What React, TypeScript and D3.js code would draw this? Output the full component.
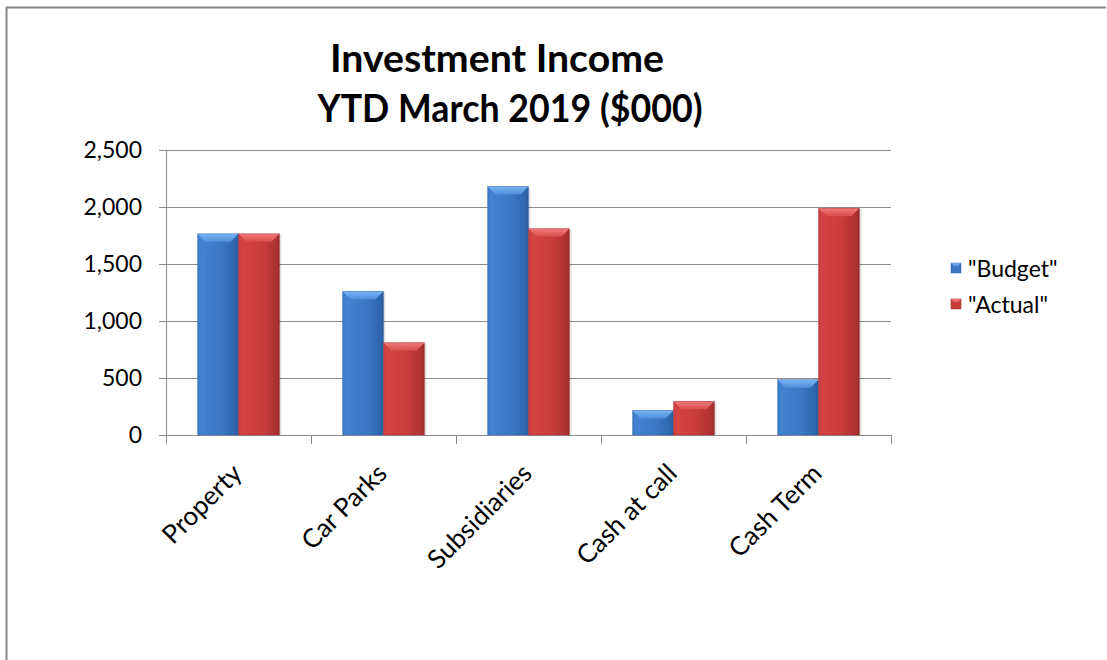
import React from "react";
import * as d3 from "d3";

const categories = ["Property", "Car Parks", "Subsidiaries", "Cash at call", "Cash Term"];
const budget = [1765, 1260, 2180, 215, 485];
const actual = [1765, 810, 1810, 295, 1990];
const seriesNames = ['"Budget"', '"Actual"'];
const yTicks = [0, 500, 1000, 1500, 2000, 2500];

const W = 1107, H = 660;
const left = 166, right = 891, top = 150, bottom = 435;
const FONT = "Lato, 'Open Sans', sans-serif";

export default function App() {
  const x = d3.scaleBand<string>().domain(categories).range([left, right]).paddingInner(0).paddingOuter(0);
  const inner = d3.scaleBand<number>().domain([0, 1]).range([0, x.bandwidth()]).paddingInner(0).paddingOuter(0.77);
  const y = d3.scaleLinear().domain([0, 2500]).range([bottom, top]);
  const fmt = d3.format(",");
  const series = [budget, actual];
  const grads = ["gBlue", "gRed"];
  const bevel = ["#6aa6ee", "#ec6a6a"];
  const swatch = ["#3a78c6", "#c83a3a"];

  return (
    <svg width={W} height={H} style={{ position: "absolute", left: 0, top: 0, display: "block" }}>
      <defs>
        <linearGradient id="gBlue" x1="0" x2="1" y1="0" y2="0">
          <stop offset="0" stopColor="#3a79c9" />
          <stop offset="0.1" stopColor="#4383d2" />
          <stop offset="0.6" stopColor="#3a77c4" />
          <stop offset="0.92" stopColor="#2f65ad" />
          <stop offset="1" stopColor="#2a5a9a" />
        </linearGradient>
        <linearGradient id="gRed" x1="0" x2="1" y1="0" y2="0">
          <stop offset="0" stopColor="#c93c3c" />
          <stop offset="0.1" stopColor="#d54343" />
          <stop offset="0.6" stopColor="#c83b3b" />
          <stop offset="0.92" stopColor="#ad3131" />
          <stop offset="1" stopColor="#9b2b2b" />
        </linearGradient>
        <linearGradient id="gBevelB" x1="0" x2="0" y1="0" y2="1">
          <stop offset="0" stopColor="#7ab4f5" />
          <stop offset="1" stopColor="#4f8fdc" />
        </linearGradient>
        <linearGradient id="gBevelR" x1="0" x2="0" y1="0" y2="1">
          <stop offset="0" stopColor="#f27a7a" />
          <stop offset="1" stopColor="#d94c4c" />
        </linearGradient>
      </defs>
      <rect x={0} y={0} width={W} height={H} fill="#fff" />
      <line x1={6.5} x2={6.5} y1={7} y2={H} stroke="#868686" strokeWidth={2} />
      <line x1={6} x2={W - 1} y1={7.5} y2={7.5} stroke="#868686" strokeWidth={2} />

      <text x={497} y={72} textAnchor="middle" fontFamily={FONT} fontWeight="bold" fontSize={38} fill="#000" textLength={334} lengthAdjust="spacingAndGlyphs">Investment Income</text>
      <text x={510} y={122} textAnchor="middle" fontFamily={FONT} fontWeight="bold" fontSize={38} fill="#000" textLength={385} lengthAdjust="spacingAndGlyphs">YTD March 2019 ($000)</text>

      {yTicks.map((t) => (
        <g key={t}>
          <line x1={left - 7} x2={right} y1={y(t) + 0.5} y2={y(t) + 0.5} stroke="#8c8c8c" strokeWidth={1} />
          <text x={142} y={y(t) + 7.5} textAnchor="end" fontFamily={FONT} fontSize={23} fill="#000">{fmt(t)}</text>
        </g>
      ))}
      <line x1={left + 0.5} x2={left + 0.5} y1={top} y2={bottom + 9} stroke="#8c8c8c" />
      {[...categories.map((c) => x(c)!), right].map((v, i) => (
        <line key={i} x1={v + 0.5} x2={v + 0.5} y1={bottom} y2={bottom + 9} stroke="#8c8c8c" />
      ))}

      {categories.map((c, ci) => (
        <g key={c}>
          {series.map((s, si) => {
            const bx = x(c)! + inner(si)!;
            const bw = inner.bandwidth();
            const by = y(s[ci]);
            const bh = bottom - by;
            const bv = Math.min(8, bh);
            return (
              <g key={si}>
                <rect x={bx + 2} y={by + 1} width={bw} height={bh - 1} fill="#000" opacity={0.12} />
                <rect x={bx} y={by} width={bw} height={bh} fill={`url(#${grads[si]})`} />
                <polygon
                  points={`${bx},${by} ${bx + bw},${by} ${bx + bw - bv},${by + bv} ${bx + bv},${by + bv}`}
                  fill={si === 0 ? "url(#gBevelB)" : "url(#gBevelR)"}
                />
                <rect x={bx} y={by} width={bw} height={bh} fill="none" stroke={si === 0 ? "#2d5f9e" : "#9e2e2e"} strokeOpacity={0.35} />
              </g>
            );
          })}
          <text
            transform={`translate(${x(c)! + x.bandwidth() / 2 + 5},${bottom + 40}) rotate(-45)`}
            textAnchor="end"
            fontFamily={FONT}
            fontSize={26}
            fill="#000"
          >
            {c}
          </text>
        </g>
      ))}

      {seriesNames.map((n, i) => (
        <g key={n}>
          <rect x={951} y={263 + i * 36} width={10} height={10} fill={swatch[i]} stroke={i === 0 ? "#2d5f9e" : "#9e2e2e"} strokeWidth={0.5} />
          <polygon points={`${951},${263 + i * 36} ${961},${263 + i * 36} ${958},${266 + i * 36} ${954},${266 + i * 36}`} fill={bevel[i]} />
          <text x={968} y={277 + i * 36} fontFamily={FONT} fontSize={23} fill="#000">{n}</text>
        </g>
      ))}
    </svg>
  );
}
